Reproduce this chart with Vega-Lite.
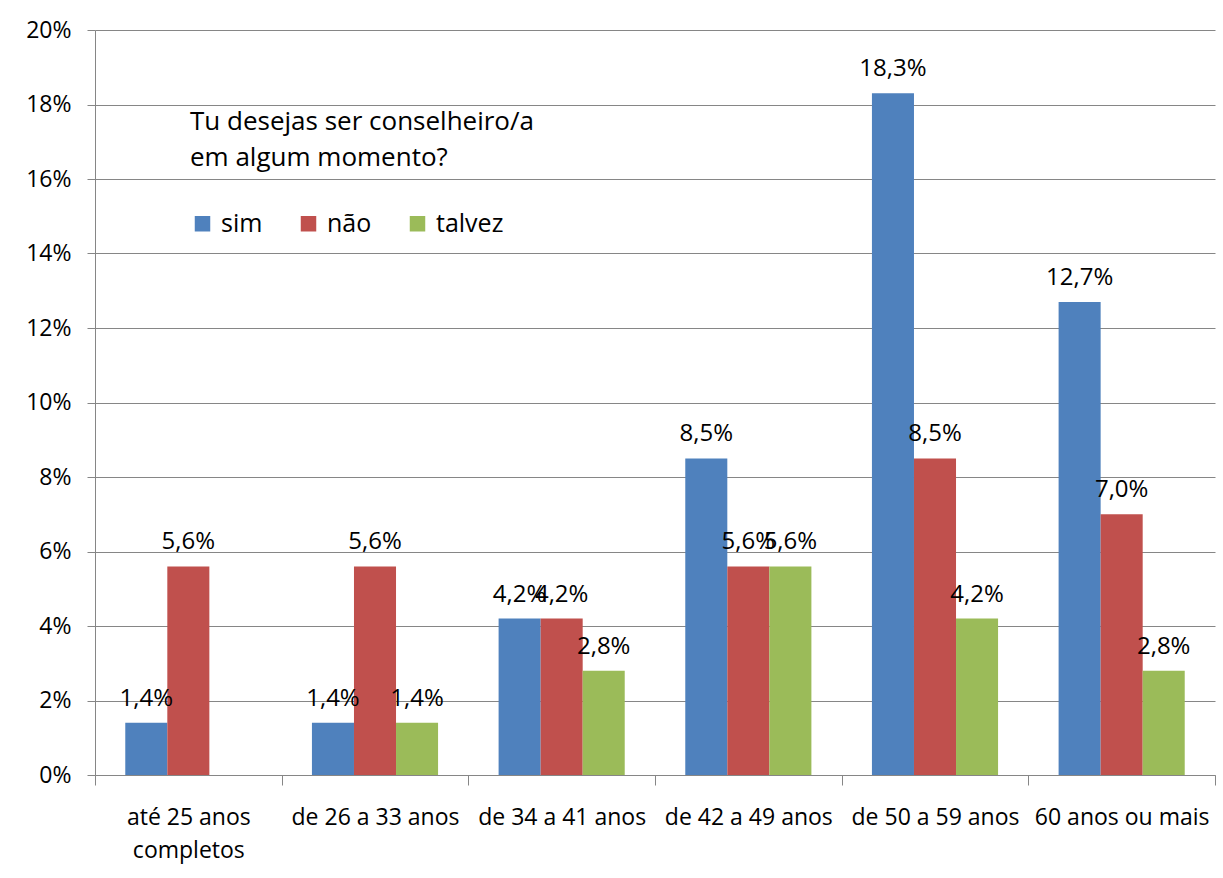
{
  "$schema": "https://vega.github.io/schema/vega-lite/v6.json",
  "width": 1120,
  "height": 745,
  "autosize": "none",
  "padding": {"left": 95, "top": 30, "right": 8, "bottom": 103},
  "background": "white",
  "data": {
    "values": [
      {"faixa": "até 25 anos completos", "resposta": "sim", "pct": 0.014},
      {"faixa": "até 25 anos completos", "resposta": "não", "pct": 0.056},
      {"faixa": "de 26 a 33 anos", "resposta": "sim", "pct": 0.014},
      {"faixa": "de 26 a 33 anos", "resposta": "não", "pct": 0.056},
      {"faixa": "de 26 a 33 anos", "resposta": "talvez", "pct": 0.014},
      {"faixa": "de 34 a 41 anos", "resposta": "sim", "pct": 0.042},
      {"faixa": "de 34 a 41 anos", "resposta": "não", "pct": 0.042},
      {"faixa": "de 34 a 41 anos", "resposta": "talvez", "pct": 0.028},
      {"faixa": "de 42 a 49 anos", "resposta": "sim", "pct": 0.085},
      {"faixa": "de 42 a 49 anos", "resposta": "não", "pct": 0.056},
      {"faixa": "de 42 a 49 anos", "resposta": "talvez", "pct": 0.056},
      {"faixa": "de 50 a 59 anos", "resposta": "sim", "pct": 0.183},
      {"faixa": "de 50 a 59 anos", "resposta": "não", "pct": 0.085},
      {"faixa": "de 50 a 59 anos", "resposta": "talvez", "pct": 0.042},
      {"faixa": "60 anos ou mais", "resposta": "sim", "pct": 0.127},
      {"faixa": "60 anos ou mais", "resposta": "não", "pct": 0.070},
      {"faixa": "60 anos ou mais", "resposta": "talvez", "pct": 0.028}
    ]
  },
  "encoding": {
    "x": {
      "field": "faixa",
      "type": "nominal",
      "sort": null,
      "scale": {"paddingInner": 0, "paddingOuter": 0},
      "axis": {
        "title": null,
        "labelAngle": 0,
        "bandPosition": 0,
        "tickBand": "extent",
        "labelExpr": "datum.label == 'até 25 anos completos' ? ['até 25 anos', 'completos'] : datum.label",
        "labelPadding": 21,
        "labelLineHeight": 33,
        "labelLimit": 0,
        "labelOverlap": false,
        "tickSize": 10,
        "grid": false
      }
    },
    "xOffset": {
      "field": "resposta",
      "type": "nominal",
      "sort": ["sim", "não", "talvez"],
      "scale": {"domain": ["sim", "não", "talvez"], "paddingInner": 0, "paddingOuter": 0.72}
    },
    "y": {
      "field": "pct",
      "type": "quantitative",
      "scale": {"domain": [0, 0.2], "nice": false},
      "axis": {
        "title": null,
        "format": ".0%",
        "values": [0, 0.02, 0.04, 0.06, 0.08, 0.1, 0.12, 0.14, 0.16, 0.18, 0.2],
        "labelOverlap": false,
        "tickSize": 8,
        "labelPadding": 16,
        "grid": true
      }
    }
  },
  "layer": [
    {
      "mark": {"type": "bar"},
      "encoding": {
        "color": {
          "field": "resposta",
          "type": "nominal",
          "sort": ["sim", "não", "talvez"],
          "scale": {"domain": ["sim", "não", "talvez"], "range": ["#4F81BD", "#C0504D", "#9BBB59"]},
          "legend": {
            "title": ["Tu desejas ser conselheiro/a", "em algum momento?"],
            "orient": "none",
            "legendX": 95,
            "legendY": 79,
            "direction": "horizontal",
            "symbolType": "square",
            "symbolSize": 240,
            "symbolStrokeWidth": 0,
            "titleFontSize": 26,
            "titleFontWeight": "normal",
            "titleLineHeight": 36,
            "titlePadding": 40,
            "titleLimit": 0,
            "titleColor": "#000000",
            "labelFontSize": 25,
            "labelLimit": 0,
            "labelColor": "#000000",
            "labelOffset": 6,
            "columnPadding": 33
          }
        }
      }
    },
    {
      "mark": {"type": "text", "baseline": "bottom", "dy": -12, "fontSize": 24, "color": "#000000"},
      "encoding": {
        "text": {"field": "pct", "type": "quantitative", "format": ".1%"}
      }
    }
  ],
  "config": {
    "locale": {
      "number": {"decimal": ",", "thousands": ".", "grouping": [3], "currency": ["R$", ""]}
    },
    "font": "Open Sans",
    "view": {"stroke": null},
    "axis": {
      "labelFont": "Open Sans",
      "labelFontSize": 23,
      "labelColor": "#000000",
      "domainColor": "#868686",
      "tickColor": "#868686",
      "gridColor": "#868686",
      "domainWidth": 1,
      "gridWidth": 1
    },
    "legend": {"titleFont": "Open Sans", "labelFont": "Open Sans"}
  }
}
